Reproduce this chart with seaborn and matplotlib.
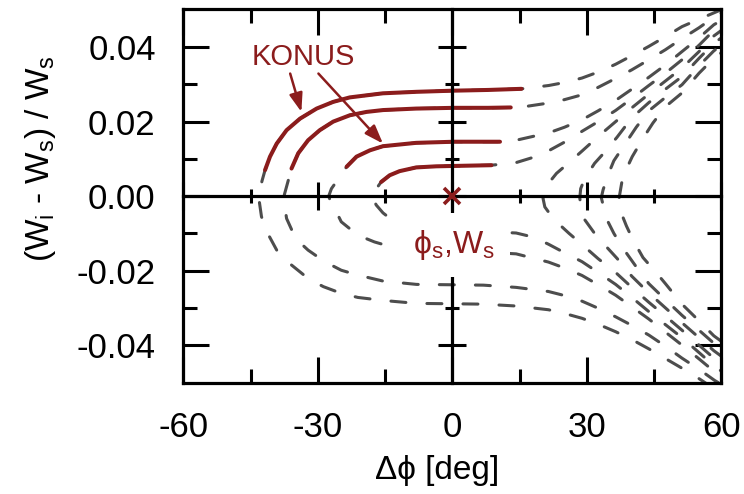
import numpy as np
import matplotlib
matplotlib.use("Agg")
import matplotlib.pyplot as plt
from matplotlib.ticker import FixedLocator, FormatStrFormatter
import seaborn as sns

# ---------------- data ----------------
# each trajectory: path from the upper-right end, leftwards through the turning point,
# then rightwards along the lower branch
phi_1 = [59.5, 55.0, 51.2, 47.5, 43.8, 40.0, 36.4, 32.5, 28.9, 25.0, 21.5, 15.4, 8.0, 0.0, -8.0, -15.5,
         -22.9, -26.6, -30.3, -34.0, -37.0, -39.2, -40.7, -41.8, -42.5, -43.2,
         -42.6, -41.4, -39.2, -35.9, -32.2, -28.8, -24.8, -21.1, -15.5, -8.0, 0.0, 6.9, 14.2, 21.4,
         25.0, 28.9, 32.5, 36.4, 40.0, 43.8, 47.5, 51.2, 55.0, 56.5]
w_1 = [0.0498, 0.0475, 0.0455, 0.0428, 0.0402, 0.0377, 0.0354, 0.0333, 0.0317, 0.0305, 0.0297, 0.0288,
       0.0285, 0.0283, 0.0280, 0.0276, 0.0265, 0.0253, 0.0235, 0.0208, 0.0177, 0.0141, 0.0106, 0.0070,
       0.0040, -0.0005,
       -0.0055, -0.0096, -0.0145, -0.0185, -0.0221, -0.0243, -0.0261, -0.0272, -0.0280, -0.0288,
       -0.0289, -0.0290, -0.0295, -0.0305, -0.0315, -0.0328, -0.0344, -0.0364, -0.0385, -0.0410,
       -0.0436, -0.0462, -0.0490, -0.0502]

phi_2 = [60.0, 58.3, 55.0, 51.2, 47.5, 43.8, 40.0, 36.4, 32.5, 28.9, 25.0, 21.5, 16.0, 13.0, 8.0, 0.4,
         -8.1, -15.5, -19.2, -22.9, -26.6, -29.6, -32.2, -34.4, -35.9, -36.4, -37.7,
         -37.0, -35.5, -34.0, -32.2, -28.5, -24.8, -21.1, -15.5, -8.0, 0.0, 6.9, 14.2, 21.4, 25.0,
         28.9, 32.5, 36.4, 40.0, 43.8, 47.5, 51.2, 55.0, 58.5, 59.5]
w_2 = [0.0492, 0.0480, 0.0452, 0.0423, 0.0393, 0.0366, 0.0339, 0.0316, 0.0292, 0.0272, 0.0259, 0.0250,
       0.0240, 0.0238, 0.0237, 0.0237, 0.0235, 0.0231, 0.0226, 0.0217, 0.0200, 0.0177, 0.0150, 0.0115,
       0.0074, 0.0052, -0.0005,
       -0.0060, -0.0100, -0.0125, -0.0145, -0.0176, -0.0199, -0.0212, -0.0228, -0.0237, -0.0238,
       -0.0239, -0.0245, -0.0256, -0.0267, -0.0282, -0.0301, -0.0324, -0.0347, -0.0373, -0.0403,
       -0.0435, -0.0465, -0.0495, -0.0502]

phi_3 = [60.0, 58.3, 55.0, 51.2, 47.5, 43.8, 40.0, 36.4, 32.5, 28.9, 25.0, 21.5, 14.2, 10.6, 0.4, -8.1,
         -15.5, -18.4, -21.4, -23.6, -24.5, -26.0, -27.0, -27.6,
         -27.0, -26.0, -24.8, -21.1, -17.4, -13.7, -8.0, 0.0, 6.9, 14.2, 21.4, 25.0, 28.9, 32.5, 36.4,
         40.0, 43.8, 47.5, 51.2, 55.0, 58.3, 60.0]
w_3 = [0.0472, 0.0460, 0.0425, 0.0388, 0.0352, 0.0319, 0.0287, 0.0257, 0.0229, 0.0205, 0.0185, 0.0170,
       0.0150, 0.0146, 0.0146, 0.0143, 0.0134, 0.0123, 0.0106, 0.0079, 0.0063, 0.0037, 0.0020, 0.0000,
       -0.0022, -0.0040, -0.0069, -0.0105, -0.0123, -0.0136, -0.0145, -0.0149, -0.0150, -0.0155,
       -0.0177, -0.0193, -0.0213, -0.0238, -0.0266, -0.0297, -0.0330, -0.0365, -0.0400, -0.0437,
       -0.0470, -0.0485]

phi_4 = [60.0, 58.3, 55.0, 51.2, 47.5, 43.8, 40.0, 36.4, 32.5, 28.9, 25.0, 21.5, 18.0, 14.2, 8.7, 0.4,
         -3.6, -8.1, -11.8, -14.0, -15.9, -16.8, -18.0,
         -17.0, -15.5, -13.6, -10.0, -8.0, 0.0, 6.9, 14.2, 18.0, 21.4, 25.0, 28.9, 32.5, 36.4, 40.0,
         43.8, 47.5, 51.2, 55.0, 58.3, 60.0]
w_4 = [0.0460, 0.0445, 0.0405, 0.0366, 0.0330, 0.0297, 0.0262, 0.0230, 0.0200, 0.0174, 0.0145, 0.0122,
       0.0104, 0.0090, 0.0083, 0.0081, 0.0080, 0.0077, 0.0067, 0.0056, 0.0038, 0.0023, 0.0000,
       -0.0024, -0.0045, -0.0063, -0.0078, -0.0084, -0.0092, -0.0095, -0.0099, -0.0110, -0.0129,
       -0.0152, -0.0176, -0.0205, -0.0237, -0.0272, -0.0310, -0.0345, -0.0380, -0.0420, -0.0455,
       -0.0470]

phi_5 = [60.0, 58.3, 55.0, 51.2, 47.5, 43.8, 40.0, 36.4, 32.5, 29.0, 26.0, 23.2, 21.8, 20.6, 20.2,
         20.6, 21.8, 23.2, 26.0, 29.0, 32.5, 36.4, 40.0, 43.8, 47.5, 51.2, 55.0, 58.3, 60.0]
w_5 = [0.0445, 0.0430, 0.0388, 0.0344, 0.0309, 0.0274, 0.0237, 0.0200, 0.0160, 0.0122, 0.0090, 0.0061,
       0.0040, 0.0016, -0.0006, -0.0029, -0.0049, -0.0069, -0.0100, -0.0131, -0.0168, -0.0205,
       -0.0245, -0.0285, -0.0322, -0.0360, -0.0400, -0.0435, -0.0450]

phi_6 = [60.0, 58.3, 55.0, 51.2, 47.5, 43.8, 40.0, 36.7, 33.5, 31.7, 29.5, 28.6, 28.4,
         28.7, 29.3, 31.7, 33.5, 36.7, 40.0, 43.8, 47.5, 51.2, 55.0, 58.3, 60.0]
w_6 = [0.0425, 0.0410, 0.0370, 0.0321, 0.0287, 0.0251, 0.0210, 0.0158, 0.0112, 0.0088, 0.0047, 0.0020,
       -0.0005, -0.0035, -0.0060, -0.0100, -0.0125, -0.0167, -0.0215, -0.0260, -0.0300, -0.0340,
       -0.0380, -0.0415, -0.0430]

phi_7 = [60.0, 58.3, 55.0, 51.2, 47.5, 43.8, 41.0, 38.0, 36.0, 34.7, 33.6, 33.2,
         33.6, 34.7, 36.0, 37.8, 41.0, 43.8, 47.5, 51.2, 55.0, 58.3, 60.0]
w_7 = [0.0405, 0.0390, 0.0350, 0.0299, 0.0265, 0.0229, 0.0185, 0.0131, 0.0095, 0.0057, 0.0017, -0.0004,
       -0.0024, -0.0069, -0.0100, -0.0136, -0.0190, -0.0235, -0.0278, -0.0320, -0.0360, -0.0395,
       -0.0410]

phi_8 = [60.0, 58.3, 55.0, 51.2, 47.5, 44.7, 42.5, 40.1, 38.5, 37.8, 37.3, 37.1,
         37.3, 37.7, 38.8, 40.2, 42.5, 45.5, 47.5, 51.2, 55.0, 58.3, 60.0]
w_8 = [0.0385, 0.0370, 0.0330, 0.0277, 0.0240, 0.0196, 0.0155, 0.0106, 0.0065, 0.0039, 0.0004, -0.0010,
       -0.0025, -0.0047, -0.0080, -0.0116, -0.0165, -0.0206, -0.0235, -0.0290, -0.0335, -0.0375,
       -0.0390]

# KONUS sections (solid red) of the first four trajectories, upper branch
konus_start = [-41.8, -35.9, -23.6, -15.9]
konus_end = [15.4, 13.0, 10.6, 8.7]

# arrows from the KONUS label
arrow_tail = [(-36.2, 0.0329), (-29.9, 0.0329)]
arrow_head = [(-33.7, 0.0226), (-15.5, 0.0141)]

# synchronous particle
phi_s = [0.0]
w_s = [0.0]

x_major = [-60, -30, 0, 30, 60]
x_minor = [-45, -15, 15, 45]
y_major = [-0.04, -0.02, 0.0, 0.02, 0.04]
y_minor = [-0.03, -0.01, 0.01, 0.03]

# ---------------- style ----------------
sns.set_style("ticks")
plt.rcParams["font.family"] = ["Liberation Sans", "DejaVu Sans"]
plt.rcParams["mathtext.fontset"] = "custom"
plt.rcParams["mathtext.rm"] = "Liberation Sans"
plt.rcParams["mathtext.it"] = "Liberation Sans"
plt.rcParams["mathtext.bf"] = "Liberation Sans:bold"
plt.rcParams["axes.unicode_minus"] = False
plt.rcParams["axes.edgecolor"] = "black"
plt.rcParams["xtick.color"] = "black"
plt.rcParams["ytick.color"] = "black"
plt.rcParams["text.color"] = "black"
plt.rcParams["axes.labelcolor"] = "black"

RED = "#8b1c1c"
GRAY = "#4d4d4d"
XLIM = (-60, 60)
YLIM = (-0.0503, 0.0501)
DPI = 100
LW_DASH = 2.2
DASH_ON, DASH_OFF = 4.9, 6.9   # in units of line width

fig = plt.figure(figsize=(7.44, 4.94), dpi=DPI)
rect = [0.2466, 0.2237, 0.7231, 0.7571]
ax = fig.add_axes(rect)
ax.set_xlim(*XLIM)
ax.set_ylim(*YLIM)

curves = [(phi_1, w_1), (phi_2, w_2), (phi_3, w_3), (phi_4, w_4),
          (phi_5, w_5), (phi_6, w_6), (phi_7, w_7), (phi_8, w_8)]


def dash_offset(p, w):
    """Dash phase so that a gap falls on the turning point of the trajectory."""
    xy = ax.transData.transform(np.column_stack([p, w]))
    seg = np.hypot(*np.diff(xy, axis=0).T) * 72.0 / DPI
    cum = np.concatenate([[0.0], np.cumsum(seg)])
    L = cum[int(np.argmin(p))]
    period = (DASH_ON + DASH_OFF) * LW_DASH
    gap_mid = (DASH_ON + DASH_OFF / 2) * LW_DASH
    return ((L - gap_mid) % period) / LW_DASH


for p, w in curves:
    off = dash_offset(p, w)
    sns.lineplot(x=p, y=w, sort=False, estimator=None, color=GRAY, linewidth=LW_DASH,
                 linestyle=(off, (DASH_ON, DASH_OFF)), dash_capstyle="round", ax=ax, zorder=2)

for k in range(4):
    p = np.asarray(curves[k][0])
    w = np.asarray(curves[k][1])
    m = (p >= konus_start[k]) & (p <= konus_end[k]) & (w > 0)
    sns.lineplot(x=p[m], y=w[m], sort=False, estimator=None, color=RED, linewidth=2.9,
                 solid_capstyle="round", ax=ax, zorder=3)

for (tx, ty), (hx, hy) in zip(arrow_tail, arrow_head):
    ax.annotate("", xy=(hx, hy), xytext=(tx, ty),
                arrowprops=dict(arrowstyle="-|>,head_length=0.7,head_width=0.25",
                                color=RED, lw=1.8, shrinkA=0, shrinkB=0, mutation_scale=16),
                zorder=4)
ax.text(-33.2, 0.0352, "KONUS", color=RED, fontsize=21, ha="center", va="baseline", zorder=4)

ax.set_xlim(*XLIM)
ax.set_ylim(*YLIM)
ax.xaxis.set_major_locator(FixedLocator(x_major))
ax.xaxis.set_minor_locator(FixedLocator(x_minor))
ax.yaxis.set_major_locator(FixedLocator(y_major))
ax.yaxis.set_minor_locator(FixedLocator(y_minor))
ax.xaxis.set_major_formatter(FormatStrFormatter("%d"))
ax.yaxis.set_major_formatter(FormatStrFormatter("%.2f"))
ax.tick_params(which="both", direction="in", top=True, right=True, width=2.2, labelsize=25)
ax.tick_params(axis="y", pad=20)
ax.tick_params(axis="x", pad=20)
ax.tick_params(which="major", length=19)
ax.tick_params(which="minor", length=10)
for s in ax.spines.values():
    s.set_linewidth(2.3)
    s.set_color("black")

ax.set_xlabel("Δϕ [deg]", fontsize=24)
ax.set_ylabel(r"(W$_\mathrm{i}$ - W$_\mathrm{s}$) / W$_\mathrm{s}$", fontsize=24)
ax.xaxis.set_label_coords(0.472, -0.19)
ax.yaxis.set_label_coords(-0.233, 0.60)

# overlay axes: the axis cross through the origin
ax0 = fig.add_axes(rect)
ax0.patch.set_visible(False)
ax0.set_xlim(*XLIM)
ax0.set_ylim(*YLIM)
ax0.spines["top"].set_visible(False)
ax0.spines["right"].set_visible(False)
ax0.spines["left"].set_position(("data", 0))
ax0.spines["bottom"].set_position(("data", 0))
for s in ("left", "bottom"):
    ax0.spines[s].set_linewidth(2.3)
    ax0.spines[s].set_color("black")
ax0.xaxis.set_major_locator(FixedLocator(x_major))
ax0.xaxis.set_minor_locator(FixedLocator(x_minor))
ax0.yaxis.set_major_locator(FixedLocator(y_major))
ax0.yaxis.set_minor_locator(FixedLocator(y_minor))
ax0.tick_params(which="both", direction="inout", width=2.2, labelbottom=False, labelleft=False)
ax0.tick_params(which="major", length=20)
ax0.tick_params(which="minor", length=10)

ax0.text(0.3, -0.0153, r"ϕ$_\mathrm{s}$,W$_\mathrm{s}$", color=RED, fontsize=23,
         ha="center", va="baseline", zorder=5,
         bbox=dict(facecolor="white", edgecolor="none", pad=11))
ax0.plot(phi_s, w_s, marker="x", markersize=12, markeredgewidth=2.6, color=RED,
         linestyle="none", zorder=6, clip_on=False)

fig.savefig("out.png", dpi=DPI)
